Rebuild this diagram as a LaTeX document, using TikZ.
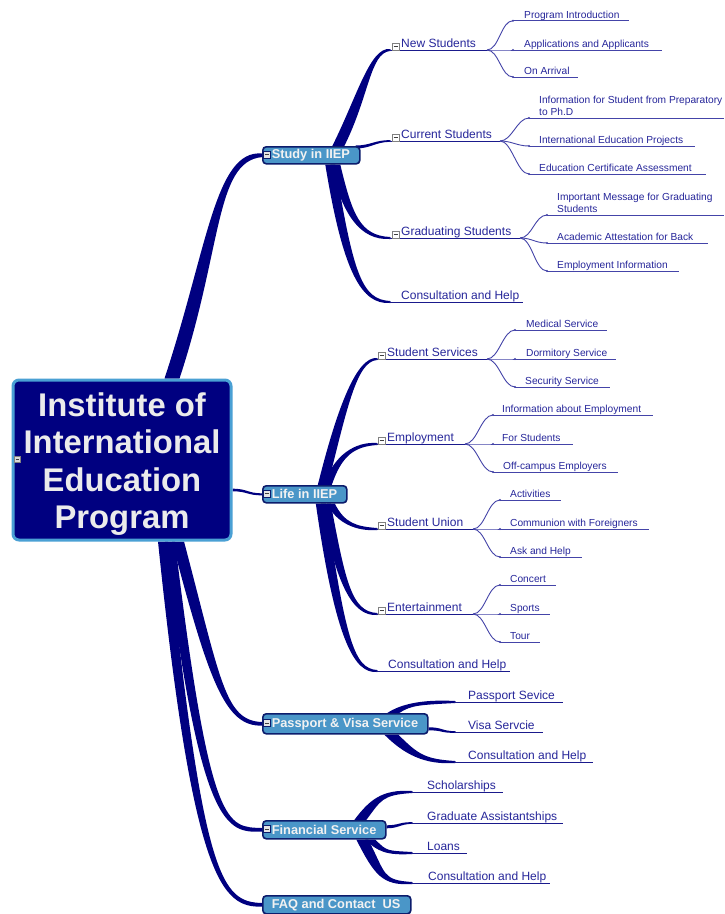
\documentclass[tikz,border=0pt]{standalone}
\usepackage{fontspec}
\setmainfont{Liberation Sans}
\usetikzlibrary{calc}

\definecolor{navy}{HTML}{000080}
\definecolor{boxblue}{HTML}{4A96C8}
\definecolor{boxedge}{HTML}{0C1C6C}
\definecolor{rootedge}{HTML}{4AA0D4}
\definecolor{lbl}{HTML}{26269A}
\definecolor{ulA}{HTML}{1A1A8C}
\definecolor{ulB}{HTML}{4444A8}

\pgfdeclarelayer{bg}
\pgfsetlayers{bg,main}

\tikzset{
  trunk/.style={fill=navy},
  rootbox/.style={draw=rootedge, line width=3, fill=navy, rounded corners=6,
    text=white!92!black, font=\fontsize{32.8}{37.5}\selectfont\bfseries,
    minimum width=218, minimum height=160, inner sep=0},
  onebox/.style={draw=boxedge, line width=1.6, fill=boxblue, rounded corners=3.5,
    text=white!95!black, font=\fontsize{12.8}{15}\selectfont\bfseries,
    inner xsep=9, inner ysep=0, anchor=north west},
  twotext/.style={text=lbl, font=\fontsize{12}{14}\selectfont, inner sep=0, anchor=base west},
  threetext/.style={text=lbl, font=\fontsize{10.2}{12}\selectfont, inner sep=0,
    anchor=base west, align=left},
  ulinetwo/.style={draw=ulA, line width=1},
  ulinethree/.style={draw=ulB, line width=0.9},
  twig/.style={draw=ulB, line width=0.9},
  minusbox/.style={draw=gray, fill=white, line width=0.6, minimum size=7, inner sep=0,
    path picture={\draw[black!75, line width=0.8]
      ([xshift=1.5]path picture bounding box.west) --
      ([xshift=-1.5]path picture bounding box.east);}},
  boxminus/.style={minusbox, draw=boxedge, fill=white!90!black},
}

% second-level topic: name, underline start x, text x, underline y, underline end x, text
\newcommand\subtopic[6]{%
  \coordinate (#1-s) at (#2,#4);
  \coordinate (#1-e) at (#5,#4);
  \node[twotext] (#1) at (#3,#4-3) {#6};
  \draw[ulinetwo] (#1-s) -- (#1-e);
  \fill[ulA] (#1-s) circle (1);
}

% third-level topic: parent, name, underline start x, text x, underline y, underline end x, text
\newcommand\leafnode[7]{%
  \coordinate (#2-s) at (#3,#5);
  \coordinate (#2-e) at (#6,#5);
  \node[threetext] (#2) at (#4,#5-2.5) {#7};
  \draw[ulinethree] (#2-s) -- (#2-e);
  \draw[twig] (#1-e) .. controls +(12,0) and +(-12,0) .. (#2-s);
  \fill[ulB] (#2-s) circle (1.1);
}

% tapered branch: start, end, first control (rel. start), second control (rel. end),
% half-width at start, half-width at second control, half-width at end
\newcommand\branchto[7]{%
  \fill[trunk] ($#1+#5$) .. controls ($#1+#3+#5$) and ($#2+#4+#6$) .. ($#2+#7$)
    -- ($#2-#7$) .. controls ($#2+#4-#6$) and ($#1+#3-#5$) .. ($#1-#5$) -- cycle;
}

\begin{document}
\begin{tikzpicture}[x=1pt, y=-1pt]
\useasboundingbox (0,0) rectangle (724,914);

% central topic
\node[rootbox] (root) at (122,460)
  {\raisebox{-5pt}[\height][\depth]{\begin{tabular}{@{}c@{}}Institute of\\International\\Education\\Program\end{tabular}}};
\node[minusbox, minimum size=6, fill=white!85!black] (root-i) at (17,459) {};

% main topics
\node[onebox, minimum height=17] (study) at (262,146)
  {\makebox[79pt][l]{Study in IIEP}};
\node[onebox, minimum height=17] (life) at (262,485)
  {\makebox[66pt][l]{Life in IIEP}};
\node[onebox, minimum height=20] (pv) at (262,713)
  {\makebox[147pt][l]{Passport \& Visa Service}};
\node[onebox, minimum height=18] (fin) at (262,820)
  {\makebox[105pt][l]{Financial Service}};
\node[onebox, minimum height=18] (faq) at (262,895)
  {\makebox[130pt][l]{FAQ and Contact\ \ US}};

\node[boxminus] (study-i) at (266.5,154.5) {};
\node[boxminus] (life-i) at (266.5,493.5) {};
\node[boxminus] (pv-i) at (266.5,723) {};
\node[boxminus] (fin-i) at (266.5,829) {};

% Study in IIEP
\subtopic{ns}{390}{401}{50}{487}{New Students}
\leafnode{ns}{pi}{513}{524}{20.7}{629}{Program Introduction}
\leafnode{ns}{aa}{513}{524}{50}{662}{Applications and Applicants}
\leafnode{ns}{oa}{513}{524}{77}{578}{On Arrival}

\subtopic{cs}{390}{401}{141}{500}{Current Students}
\leafnode{cs}{isp}{529}{539}{118}{724}{Information for Student from Preparatory\\to Ph.D}
\leafnode{cs}{iep}{529}{539}{146}{695}{International Education Projects}
\leafnode{cs}{eca}{529}{539}{174}{706}{Education Certificate Assessment}

\subtopic{gs}{390}{401}{238}{520}{Graduating Students}
\leafnode{gs}{img}{547}{557}{215}{724}{Important Message for Graduating\\Students}
\leafnode{gs}{aab}{547}{557}{243}{708}{Academic Attestation for Back}
\leafnode{gs}{emi}{547}{557}{271}{679}{Employment Information}

\subtopic{sch}{390}{401}{302}{523}{Consultation and Help}

\node[minusbox] (ns-i) at (395.5,46.5) {};
\node[minusbox] (cs-i) at (395.5,137.5) {};
\node[minusbox] (gs-i) at (395.5,234.5) {};

% Life in IIEP
\subtopic{ss}{377}{387}{359}{487}{Student Services}
\leafnode{ss}{med}{515}{526}{330}{607}{Medical Service}
\leafnode{ss}{dor}{515}{526}{359}{616}{Dormitory Service}
\leafnode{ss}{sec}{515}{525}{387}{610}{Security Service}

\subtopic{emp}{377}{387}{444}{465}{Employment}
\leafnode{emp}{iae}{493}{502}{415}{653}{Information about Employment}
\leafnode{emp}{fst}{493}{502}{444}{573}{For Students}
\leafnode{emp}{oce}{493}{503}{472}{618}{Off-campus Employers}

\subtopic{su}{377}{387}{529}{473}{Student Union}
\leafnode{su}{act}{500}{510}{500}{561}{Activities}
\leafnode{su}{cwf}{500}{510}{529}{649}{Communion with Foreigners}
\leafnode{su}{aah}{500}{510}{557}{582}{Ask and Help}

\subtopic{ent}{377}{387}{614}{473}{Entertainment}
\leafnode{ent}{con}{500}{510}{585}{556}{Concert}
\leafnode{ent}{spo}{500}{510}{614}{550}{Sports}
\leafnode{ent}{tou}{500}{510}{642}{540}{Tour}

\subtopic{lch}{377}{388}{671}{510}{Consultation and Help}

\node[minusbox] (ss-i) at (381.5,355.5) {};
\node[minusbox] (emp-i) at (381.5,440.5) {};
\node[minusbox] (su-i) at (381.5,525.5) {};
\node[minusbox] (ent-i) at (381.5,610.5) {};

% Passport & Visa Service
\subtopic{pps}{455}{468}{702}{563}{Passport Sevice}
\subtopic{vsa}{455}{468}{732}{543}{Visa Servcie}
\subtopic{pch}{455}{468}{762}{593}{Consultation and Help}

% Financial Service
\subtopic{sco}{412}{427}{792}{503}{Scholarships}
\subtopic{gra}{412}{427}{823}{563}{Graduate Assistantships}
\subtopic{loa}{412}{427}{853}{467}{Loans}
\subtopic{fch}{412}{428}{883}{550}{Consultation and Help}

% thick branches behind the boxes
\begin{pgfonlayer}{bg}
  \fill[white] (0,0) rectangle (724,914);

  \coordinate (r1) at ($(root.north)+(50,0)$);
  \coordinate (r2) at ($(root.east)+(0,30)$);
  \coordinate (r3) at ($(root.south)+(56,0)$);
  \coordinate (r4) at ($(root.south)+(48,0)$);
  \coordinate (r5) at ($(root.south)+(41,0)$);
  \branchto{(r1)}{(study.west)}{(43,-130)}{(-47,0)}{(7.5,0)}{(0,6)}{(0,1.8)}
  \branchto{(r2)}{(life.west)}{(15,0)}{(-15,0)}{(0,1.3)}{(0,1.1)}{(0,1)}
  \branchto{(r3)}{(pv.west)}{(37,140)}{(-37,0)}{(6,0)}{(0,-3)}{(0,-1.8)}
  \branchto{(r4)}{(fin.west)}{(35,290)}{(-35,0)}{(5,0)}{(0,-3)}{(0,-1.8)}
  \branchto{(r5)}{(faq.west)}{(35,340)}{(-40,0)}{(5,0)}{(0,-3)}{(0,-1.8)}

  \coordinate (s1) at ($(study.north)+(27,0)$);
  \coordinate (s2) at ($(study.north east)+(-5,1)$);
  \coordinate (s3) at ($(study.south)+(24,0)$);
  \coordinate (s4) at ($(study.south)+(19,0)$);
  \branchto{(s1)}{(ns-s)}{(25,-50)}{(-20,0)}{(6,0)}{(0,3)}{(0,1)}
  \branchto{(s2)}{(cs-s)}{(15,0)}{(-15,0)}{(0,1.5)}{(0,1.1)}{(0,0.8)}
  \branchto{(s3)}{(gs-s)}{(12,50)}{(-30,0)}{(5,0)}{(0,-2.5)}{(0,-1)}
  \branchto{(s4)}{(sch-s)}{(18,110)}{(-28,0)}{(5,0)}{(0,-2.5)}{(0,-1)}

  \coordinate (l1) at ($(life.north)+(18,0)$);
  \coordinate (l2) at ($(life.north)+(23,0)$);
  \coordinate (l3) at ($(life.south)+(26,0)$);
  \coordinate (l4) at ($(life.south)+(21,0)$);
  \coordinate (l5) at ($(life.south)+(16,0)$);
  \branchto{(l1)}{(ss-s)}{(20,-80)}{(-20,0)}{(5,0)}{(0,2.5)}{(0,1)}
  \branchto{(l2)}{(emp-s)}{(10,-30)}{(-22,0)}{(4,0)}{(0,2.5)}{(0,1)}
  \branchto{(l3)}{(su-s)}{(10,20)}{(-20,0)}{(4,0)}{(0,-2.5)}{(0,-1)}
  \branchto{(l4)}{(ent-s)}{(15,80)}{(-25,0)}{(5,0)}{(0,-2.5)}{(0,-1)}
  \branchto{(l5)}{(lch-s)}{(20,140)}{(-22,0)}{(5,0)}{(0,-2.5)}{(0,-1)}

  \coordinate (p1) at ($(pv.north)+(48,0)$);
  \coordinate (p2) at ($(pv.east)+(0,5)$);
  \coordinate (p3) at ($(pv.south)+(46,0)$);
  \branchto{(p1)}{(pps-s)}{(12,-8)}{(-35,0)}{(6,0)}{(0,3)}{(0,1)}
  \branchto{(p2)}{(vsa-s)}{(14,0)}{(-14,0)}{(0,1.5)}{(0,1.1)}{(0,0.8)}
  \branchto{(p3)}{(pch-s)}{(20,20)}{(-30,0)}{(7,0)}{(0,-3)}{(0,-1)}

  \coordinate (f1) at ($(fin.north)+(36,0)$);
  \coordinate (f2) at ($(fin.east)+(0,-3)$);
  \coordinate (f3) at ($(fin.south)+(46,0)$);
  \coordinate (f4) at ($(fin.south)+(38,0)$);
  \branchto{(f1)}{(sco-s)}{(15,-20)}{(-30,0)}{(6,0)}{(0,3)}{(0,1)}
  \branchto{(f2)}{(gra-s)}{(12,0)}{(-12,0)}{(0,1.5)}{(0,1.1)}{(0,0.8)}
  \branchto{(f3)}{(loa-s)}{(12,12)}{(-25,0)}{(5,0)}{(0,-2.5)}{(0,-1)}
  \branchto{(f4)}{(fch-s)}{(18,35)}{(-30,0)}{(6,0)}{(0,-3)}{(0,-1)}
\end{pgfonlayer}
\end{tikzpicture}
\end{document}
